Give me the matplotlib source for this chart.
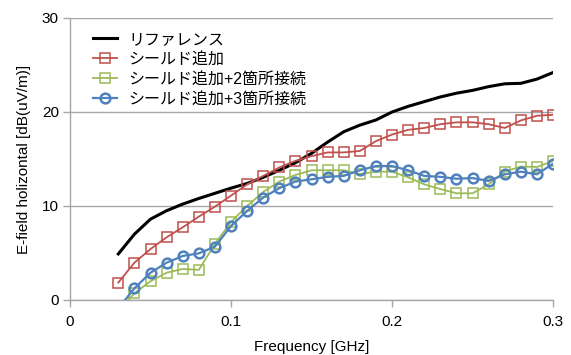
import matplotlib
matplotlib.use("Agg")
import matplotlib.pyplot as plt

plt.rcParams['font.family'] = ['Liberation Sans', 'Noto Sans CJK JP', 'DejaVu Sans']

freq = [0.03, 0.04, 0.05, 0.06, 0.07, 0.08, 0.09, 0.10, 0.11, 0.12, 0.13, 0.14, 0.15,
        0.16, 0.17, 0.18, 0.19, 0.20, 0.21, 0.22, 0.23, 0.24, 0.25, 0.26, 0.27, 0.28,
        0.29, 0.30]

reference = [4.9, 7.0, 8.6, 9.5, 10.2, 10.8, 11.35, 11.9, 12.4, 13.05, 13.8, 14.6, 15.6,
             16.8, 17.9, 18.6, 19.15, 20.0, 20.6, 21.1, 21.6, 22.0, 22.3, 22.7, 23.0, 23.05,
             23.5, 24.2]
shield = [1.85, 3.97, 5.42, 6.67, 7.73, 8.87, 9.93, 11.1, 12.3, 13.2, 14.1, 14.8, 15.3,
          15.7, 15.7, 15.85, 16.9, 17.6, 18.1, 18.3, 18.7, 18.9, 18.9, 18.7, 18.3, 19.1,
          19.6, 19.7]
shield2 = [-1.1, 0.7, 2.0, 2.9, 3.3, 3.2, 5.96, 8.3, 10.0, 11.5, 12.6, 13.3, 13.8,
           13.8, 13.8, 13.4, 13.65, 13.65, 13.05, 12.3, 11.8, 11.35, 11.35, 12.3, 13.65, 14.2,
           14.15, 14.8]
shield3 = [-0.9, 1.24, 2.9, 3.97, 4.68, 4.96, 5.67, 7.87, 9.47, 10.9, 11.9, 12.6, 12.84,
           13.1, 13.2, 13.8, 14.25, 14.25, 13.8, 13.2, 13.1, 12.9, 12.97, 12.66, 13.37, 13.65,
           13.37, 14.5]

labels = ['リファレンス', 'シールド追加', 'シールド追加+2箇所接続', 'シールド追加+3箇所接続']
xticks = [0, 0.1, 0.2, 0.3]
yticks = [0, 10, 20, 30]

fig = plt.figure(figsize=(5.71, 3.55), dpi=100)
ax = fig.add_axes([0.1226, 0.155, 0.846, 0.7943])

grid_c = '#A6A6A6'
ax.plot(freq, reference, color='black', lw=2.2, label=labels[0], zorder=3)
ax.plot(freq, shield, color='#C0504D', lw=1.3, marker='s', ms=7, mfc='none', mew=1.1,
        label=labels[1], zorder=4)
ax.plot(freq, shield2, color='#9BBB59', lw=1.3, marker='s', ms=7, mfc='none', mew=1.1,
        label=labels[2], zorder=4)
ax.plot(freq, shield3, color='#4F81BD', lw=1.6, marker='o', ms=7, mfc='none', mew=1.8,
        label=labels[3], zorder=5)

ax.set_xlim(0, 0.3)
ax.set_ylim(0, 30)
ax.set_xticks(xticks)
ax.set_xticklabels(['0', '0.1', '0.2', '0.3'])
ax.set_yticks(yticks)
ax.yaxis.grid(True, color=grid_c, lw=1.0)
ax.set_axisbelow(True)
for s in ['top', 'right']:
    ax.spines[s].set_visible(False)
for s in ['left', 'bottom']:
    ax.spines[s].set_color(grid_c)
    ax.spines[s].set_linewidth(1.0)
ax.tick_params(axis='both', colors=grid_c, labelcolor='black', labelsize=11, length=5, width=1.0)
ax.tick_params(axis='x', pad=6)
ax.tick_params(axis='y', pad=3)

ax.set_xlabel('Frequency [GHz]', fontsize=11, labelpad=8)
ax.set_ylabel('E-field holizontal [dB(uV/m)]', fontsize=11, labelpad=8)

leg = ax.legend(loc='upper left', bbox_to_anchor=(0.025, 0.99), frameon=False, fontsize=11.5,
                handlelength=1.5, handletextpad=0.7, labelspacing=0.3, borderaxespad=0.3)

fig.savefig('out.png', dpi=100)
